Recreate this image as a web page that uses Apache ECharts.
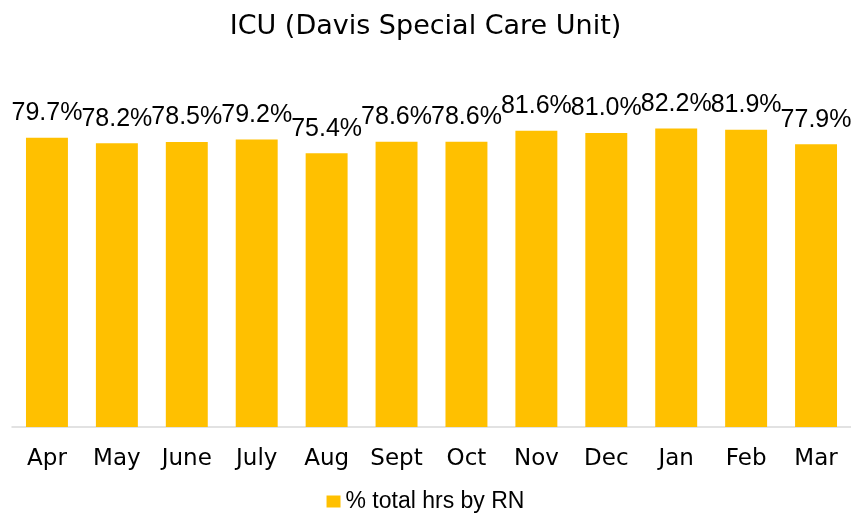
<!DOCTYPE html>
<html>
<head>
<meta charset="utf-8">
<script src="https://cdn.jsdelivr.net/npm/echarts@6/dist/echarts.min.js"></script>
<style>
  html, body { margin: 0; padding: 0; background: #fff; }
  #icu__bar { width: 851px; height: 518px; }
</style>
</head>
<body>
<div id="icu__bar"></div>
<script>
// 月份
const months = ['Apr', 'May', 'June', 'July', 'Aug', 'Sept', 'Oct', 'Nov', 'Dec', 'Jan', 'Feb', 'Mar']
// % total hrs by RN
const rnPct = [79.7, 78.2, 78.5, 79.2, 75.4, 78.6, 78.6, 81.6, 81.0, 82.2, 81.9, 77.9]
const seriesName = '% total hrs by RN'

const myChart = echarts.init(document.getElementById('icu__bar'))
const option = {
  animation: false,
  title: {
    text: 'ICU (Davis Special Care Unit)',
    left: 'center',
    top: 8,
    textStyle: {
      color: '#000',
      fontFamily: 'DejaVu Sans',
      fontSize: 27,
      fontWeight: 'normal'
    }
  },
  legend: {
    data: [seriesName],
    bottom: 0,
    left: 'center',
    icon: 'rect',
    itemWidth: 14,
    itemHeight: 12,
    itemGap: 6,
    textStyle: {
      color: '#000',
      fontFamily: 'Liberation Sans',
      fontSize: 23
    }
  },
  grid: {
    left: 12,
    right: 0,
    top: 64,
    height: 363,
    containLabel: false
  },
  xAxis: {
    type: 'category',
    data: months,
    axisLine: {
      lineStyle: { color: '#d9d9d9', width: 1.5 }
    },
    axisTick: { show: false },
    axisLabel: {
      color: '#000',
      fontFamily: 'DejaVu Sans',
      fontSize: 23,
      margin: 21
    }
  },
  yAxis: {
    type: 'value',
    min: 0,
    max: 100,
    show: false,
    splitLine: { show: false }
  },
  series: [
    {
      name: seriesName,
      type: 'bar',
      data: rnPct,
      barWidth: '60%',
      itemStyle: { color: '#FFC000' },
      label: {
        show: true,
        position: 'top',
        distance: 12,
        color: '#000',
        fontFamily: 'Liberation Sans',
        fontSize: 25,
        formatter: p => p.value.toFixed(1) + '%'
      }
    }
  ]
}
myChart.setOption(option)
window.addEventListener('resize', () => myChart.resize(), false)
</script>
</body>
</html>
